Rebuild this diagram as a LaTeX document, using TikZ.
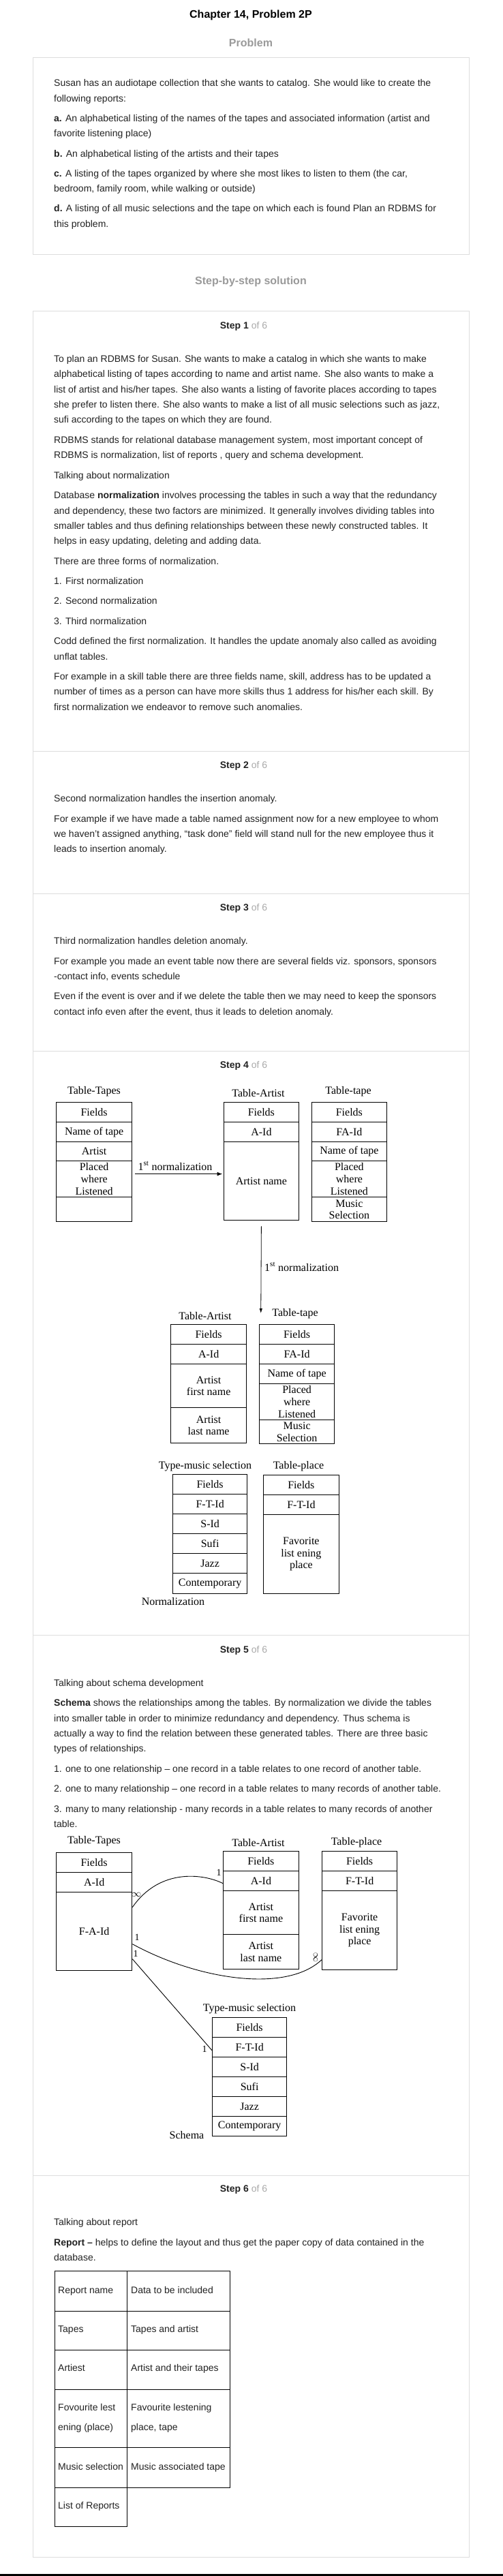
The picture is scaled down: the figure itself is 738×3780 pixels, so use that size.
\documentclass[tikz,border=0pt]{standalone}
\usepackage{fontspec}
\setmainfont{Liberation Sans}
\newfontfamily\dfont{Liberation Serif}
\usetikzlibrary{arrows.meta,calc}
\definecolor{boxgray}{HTML}{DDDDDD}
\definecolor{headgray}{HTML}{9A9A9A}
\definecolor{ofgray}{HTML}{AAAAAA}
\definecolor{bodyc}{HTML}{222222}
\newcounter{blinen}
\newcommand\bline[2]{\stepcounter{blinen}\node[bodytext] (bl\arabic{blinen}) at (79,#1) {#2};}
\newcommand\tabcell[6]{\node[tcell, minimum width=#4pt, minimum height=#5pt] (#1) at (#2,#3) {#6};}
\begin{document}
\begin{tikzpicture}[x=1pt,y=-1pt,
 bodytext/.style={anchor=west, inner sep=0pt, text height=10pt, text depth=3pt, font=\fontsize{14}{22.4}\selectfont, text=bodyc},
 stephead/.style={inner sep=0pt, font=\fontsize{14}{17}\selectfont, text=bodyc},
 sechead/.style={inner sep=0pt, font=\fontsize{16}{19}\selectfont\bfseries, text=headgray},
 tcell/.style={draw, line width=1.3pt, inner sep=0pt, align=center, anchor=north west, font=\dfont\fontsize{16}{17.7}\selectfont},
 tlabel/.style={inner sep=0pt, font=\dfont\fontsize{16}{18}\selectfont},
 relline/.style={line width=0.9pt},
 rlabel/.style={inner sep=0pt, font=\dfont\fontsize{14}{16}\selectfont},
 rcell/.style={draw, line width=0.8pt, inner sep=0pt, anchor=north west},
 grayframe/.style={draw=boxgray, line width=1pt}
]
\useasboundingbox (0,0) rectangle (738,3780);
\fill[white] (0,0) rectangle (738,3780);
\fill[black] (0,3777) rectangle (738,3780);

% headings
\node[inner sep=0pt, font=\fontsize{16}{19}\selectfont\bfseries] (title) at (368,22) {Chapter 14, Problem 2P};
\node[sechead] (probhead) at (368,63) {Problem};
\node[sechead] (solhead) at (368,413) {Step-by-step solution};

% frames
\draw[grayframe] (48,84) rectangle (688,373);
\draw[grayframe] (48,456) rectangle (688,3752);
\draw[grayframe] (48,1102) -- (688,1102);
\draw[grayframe] (48,1311) -- (688,1311);
\draw[grayframe] (48,1542) -- (688,1542);
\draw[grayframe] (48,2399) -- (688,2399);
\draw[grayframe] (48,3192) -- (688,3192);

% problem text
\bline{123}{Susan has an audiotape collection that she wants to catalog. She would like to create the}
\bline{146}{following reports:}
\bline{175}{\textbf{a.} An alphabetical listing of the names of the tapes and associated information (artist and}
\bline{197}{favorite listening place)}
\bline{227}{\textbf{b.} An alphabetical listing of the artists and their tapes}
\bline{256}{\textbf{c.} A listing of the tapes organized by where she most likes to listen to them (the car,}
\bline{278}{bedroom, family room, while walking or outside)}
\bline{307}{\textbf{d.} A listing of all music selections and the tape on which each is found Plan an RDBMS for}
\bline{330}{this problem.}

% step headings
\node[stephead] (s1) at (357.5,479) {\textbf{Step 1} \textcolor{ofgray}{of 6}};
\node[stephead] (s2) at (357.5,1124) {\textbf{Step 2} \textcolor{ofgray}{of 6}};
\node[stephead] (s3) at (357.5,1333) {\textbf{Step 3} \textcolor{ofgray}{of 6}};
\node[stephead] (s4) at (357.5,1564) {\textbf{Step 4} \textcolor{ofgray}{of 6}};
\node[stephead] (s5) at (357.5,2422) {\textbf{Step 5} \textcolor{ofgray}{of 6}};
\node[stephead] (s6) at (357.5,3213) {\textbf{Step 6} \textcolor{ofgray}{of 6}};

% step 1
\bline{528}{To plan an RDBMS for Susan. She wants to make a catalog in which she wants to make}
\bline{550}{alphabetical listing of tapes according to name and artist name. She also wants to make a}
\bline{573}{list of artist and his/her tapes. She also wants a listing of favorite places according to tapes}
\bline{595}{she prefer to listen there. She also wants to make a list of all music selections such as jazz,}
\bline{617}{sufi according to the tapes on which they are found.}
\bline{647}{RDBMS stands for relational database management system, most important concept of}
\bline{669}{RDBMS is normalization, list of reports , query and schema development.}
\bline{699}{Talking about normalization}
\bline{728}{Database \textbf{normalization} involves processing the tables in such a way that the redundancy}
\bline{751}{and dependency, these two factors are minimized. It generally involves dividing tables into}
\bline{773}{smaller tables and thus defining relationships between these newly constructed tables. It}
\bline{795}{helps in easy updating, deleting and adding data.}
\bline{825}{There are three forms of normalization.}
\bline{854}{1. First normalization}
\bline{883}{2. Second normalization}
\bline{913}{3. Third normalization}
\bline{942}{Codd defined the first normalization. It handles the update anomaly also called as avoiding}
\bline{965}{unflat tables.}
\bline{994}{For example in a skill table there are three fields name, skill, address has to be updated a}
\bline{1016}{number of times as a person can have more skills thus 1 address for his/her each skill. By}
\bline{1039}{first normalization we endeavor to remove such anomalies.}

% step 2
\bline{1173}{Second normalization handles the insertion anomaly.}
\bline{1203}{For example if we have made a table named assignment now for a new employee to whom}
\bline{1225}{we haven’t assigned anything, “task done” field will stand null for the new employee thus it}
\bline{1247}{leads to insertion anomaly.}

% step 3
\bline{1382}{Third normalization handles deletion anomaly.}
\bline{1412}{For example you made an event table now there are several fields viz. sponsors, sponsors}
\bline{1434}{-contact info, events schedule}
\bline{1463}{Even if the event is over and if we delete the table then we may need to keep the sponsors}
\bline{1486}{contact info even after the event, thus it leads to deletion anomaly.}

% step 4 diagram
\node[tlabel] (ttl) at (138,1602) {Table-Tapes};
\tabcell{tt1}{82}{1617}{111}{29}{Fields}
\tabcell{tt2}{82}{1646}{111}{29}{Name of tape}
\tabcell{tt3}{82}{1675}{111}{28}{Artist}
\tabcell{tt4}{82}{1703}{111}{53}{Placed\\where\\Listened}
\tabcell{tt5}{82}{1756}{111}{36}{}

\node[tlabel] (tal) at (379,1604) {Table-Artist};
\tabcell{ta1}{327.5}{1617}{110.5}{29}{Fields}
\tabcell{ta2}{327.5}{1646}{110.5}{29}{A-Id}
\tabcell{ta3}{327.5}{1675}{110.5}{115}{Artist name}

\node[tlabel] (tpl) at (511,1602) {Table-tape};
\tabcell{tp1}{456.5}{1617}{110.5}{29}{Fields}
\tabcell{tp2}{456.5}{1646}{110.5}{29}{FA-Id}
\tabcell{tp3}{456.5}{1675}{110.5}{28}{Name of tape}
\tabcell{tp4}{456.5}{1703}{110.5}{53}{Placed\\where\\Listened}
\tabcell{tp5}{456.5}{1756}{110.5}{36}{Music\\Selection}

\draw[line width=1.2pt,-{Latex[length=8pt,width=6pt]}] ([xshift=4pt,yshift=7.5pt]tt4.east) -- ([xshift=-1pt,yshift=10.5pt]ta3.west);
\node[tlabel] (n1lbl) at (257,1711) {1\textsuperscript{st} normalization};

\coordinate (vend) at (382.75,1927);
\draw[line width=0.8pt,-{Latex[length=7pt,width=4.5pt]}] ([yshift=-8pt]ta3.south) -- (vend);
\node[tlabel, anchor=west] (n2lbl) at (388,1859) {1\textsuperscript{st} normalization};

\node[tlabel] (lal) at (301,1931) {Table-Artist};
\tabcell{la1}{250}{1943}{111}{29}{Fields}
\tabcell{la2}{250}{1972}{111}{29}{A-Id}
\tabcell{la3}{250}{2001}{111}{64}{Artist\\first name}
\tabcell{la4}{250}{2065}{111}{52}{Artist\\last name}

\node[tlabel] (ltl) at (433,1928) {Table-tape};
\tabcell{lt1}{380}{1943}{110}{29}{Fields}
\tabcell{lt2}{380}{1972}{110}{29}{FA-Id}
\tabcell{lt3}{380}{2001}{110}{29}{Name of tape}
\tabcell{lt4}{380}{2030}{110}{53}{Placed\\where\\Listened}
\tabcell{lt5}{380}{2083}{110}{35}{Music\\Selection}

\node[tlabel] (tml) at (301,2152) {Type-music selection};
\tabcell{tm1}{253}{2163}{109}{29}{Fields}
\tabcell{tm2}{253}{2192}{109}{29}{F-T-Id}
\tabcell{tm3}{253}{2221}{109}{29}{S-Id}
\tabcell{tm4}{253}{2250}{109}{29}{Sufi}
\tabcell{tm5}{253}{2279}{109}{29}{Jazz}
\tabcell{tm6}{253}{2308}{109}{30}{Contemporary}

\node[tlabel] (pll) at (438,2152) {Table-place};
\tabcell{pl1}{386}{2164}{110.5}{29}{Fields}
\tabcell{pl2}{386}{2193}{110.5}{29}{F-T-Id}
\tabcell{pl3}{386}{2222}{110.5}{116}{Favorite\\list ening\\place}

\node[tlabel] (normlbl) at (254,2350) {Normalization};

% step 5
\bline{2471}{Talking about schema development}
\bline{2500}{\textbf{Schema} shows the relationships among the tables. By normalization we divide the tables}
\bline{2523}{into smaller table in order to minimize redundancy and dependency. Thus schema is}
\bline{2545}{actually a way to find the relation between these generated tables. There are three basic}
\bline{2567}{types of relationships.}
\bline{2597}{1. one to one relationship – one record in a table relates to one record of another table.}
\bline{2626}{2. one to many relationship – one record in a table relates to many records of another table.}
\bline{2656}{3. many to many relationship - many records in a table relates to many records of another}
\bline{2678}{table.}

\node[tlabel] (sal) at (138,2702) {Table-Tapes};
\tabcell{sa1}{82}{2718}{111}{29}{Fields}
\tabcell{sa2}{82}{2747}{111}{29}{A-Id}
\tabcell{sa3}{82}{2776}{111}{115}{F-A-Id}

\node[tlabel] (sbl) at (379,2704) {Table-Artist};
\tabcell{sb1}{327}{2716}{110.5}{29}{Fields}
\tabcell{sb2}{327}{2745}{110.5}{29}{A-Id}
\tabcell{sb3}{327}{2774}{110.5}{64}{Artist\\first name}
\tabcell{sb4}{327}{2838}{110.5}{51}{Artist\\last name}

\node[tlabel] (scl) at (523,2704) {Table-place};
\tabcell{sc1}{472}{2716}{110}{29}{Fields}
\tabcell{sc2}{472}{2745}{110}{29}{F-T-Id}
\tabcell{sc3}{472}{2774}{110}{116}{Favorite\\list ening\\place}

\node[tlabel] (sdl) at (366,2948) {Type-music selection};
\tabcell{sd1}{311}{2960}{109}{29}{Fields}
\tabcell{sd2}{311}{2989}{109}{29}{F-T-Id}
\tabcell{sd3}{311}{3018}{109}{29}{S-Id}
\tabcell{sd4}{311}{3047}{109}{29}{Sufi}
\tabcell{sd5}{311}{3076}{109}{29}{Jazz}
\tabcell{sd6}{311}{3105}{109}{29}{Contemporary}

\node[tlabel] (schlbl) at (274,3133) {Schema};

\draw[relline] ([yshift=35.5pt]sa3.east) .. controls (235,2740) and (300,2750) .. ([yshift=-3.5pt]sb2.west);
\draw[relline] ([yshift=-18.5pt]sa3.east) .. controls (290,2905) and (420,2925) .. ([yshift=-43pt]sc3.west);
\draw[relline] ([yshift=-40.5pt]sa3.east) -- ([yshift=-4.5pt]sd2.west);

\node[rlabel] (inf1) at (200,2780) {$\infty$};
\node[rlabel] (one1) at (321,2748) {1};
\node[rlabel] (one2) at (201,2843) {1};
\node[rlabel, rotate=90] (inf2) at (463,2872) {$\infty$};
\node[rlabel] (one3) at (199,2867) {1};
\node[rlabel] (one4) at (300,3007) {1};

% step 6
\bline{3262}{Talking about report}
\bline{3292}{\textbf{Report –} helps to define the layout and thus get the paper copy of data contained in the}
\bline{3314}{database.}

\node[rcell, minimum width=106.5pt, minimum height=58.5pt] (ra1) at (79.5,3332) {};
\node[rcell, minimum width=151pt, minimum height=58.5pt] (rb1) at (186,3332) {};
\node[rcell, minimum width=106.5pt, minimum height=57pt] (ra2) at (79.5,3390.5) {};
\node[rcell, minimum width=151pt, minimum height=57pt] (rb2) at (186,3390.5) {};
\node[rcell, minimum width=106.5pt, minimum height=58.2pt] (ra3) at (79.5,3447.5) {};
\node[rcell, minimum width=151pt, minimum height=58.2pt] (rb3) at (186,3447.5) {};
\node[rcell, minimum width=106.5pt, minimum height=85.7pt] (ra4) at (79.5,3505.7) {};
\node[rcell, minimum width=151pt, minimum height=85.7pt] (rb4) at (186,3505.7) {};
\node[rcell, minimum width=106.5pt, minimum height=58.2pt] (ra5) at (79.5,3591.4) {};
\node[rcell, minimum width=151pt, minimum height=58.2pt] (rb5) at (186,3591.4) {};
\node[rcell, minimum width=106.5pt, minimum height=57pt] (ra6) at (79.5,3649.6) {};

\node[bodytext] (rt1a) at (85,3362) {Report name};
\node[bodytext] (rt1b) at (192,3362) {Data to be included};
\node[bodytext] (rt2a) at (85,3419) {Tapes};
\node[bodytext] (rt2b) at (192,3419) {Tapes and artist};
\node[bodytext] (rt3a) at (85,3476) {Artiest};
\node[bodytext] (rt3b) at (192,3476) {Artist and their tapes};
\node[bodytext] (rt4a) at (85,3534) {Fovourite lest};
\node[bodytext] (rt4c) at (85,3563) {ening (place)};
\node[bodytext] (rt4b) at (192,3534) {Favourite lestening};
\node[bodytext] (rt4d) at (192,3563) {place, tape};
\node[bodytext] (rt5a) at (85,3621) {Music selection};
\node[bodytext] (rt5b) at (192,3621) {Music associated tape};
\node[bodytext] (rt6a) at (85,3678) {List of Reports};
\end{tikzpicture}
\end{document}
